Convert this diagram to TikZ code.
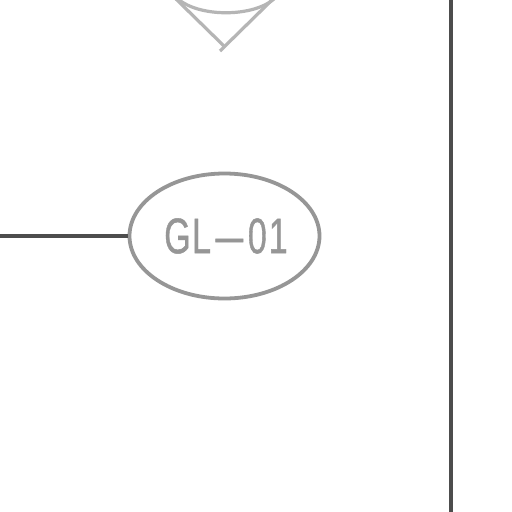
\documentclass[tikz,border=0pt]{standalone}
\usepackage{graphicx}
\usepackage{fontspec}
\setmainfont{Liberation Sans}
\newfontface\tagface[FakeBold=1]{Liberation Sans}
\definecolor{darkline}{HTML}{4D4D4D}
\definecolor{midgray}{HTML}{969696}
\definecolor{lightgray2}{HTML}{B5B5B5}
\usetikzlibrary{shapes.geometric}
\tikzset{
  wire/.style={draw=darkline,line width=3.8pt},
  tag/.style={draw=midgray,line width=3.8pt,ellipse,minimum width=190pt,minimum height=125pt,inner sep=0pt},
  faint/.style={draw=lightgray2,line width=3.2pt},
}
\begin{document}
\begin{tikzpicture}[x=1pt,y=-1pt]
\useasboundingbox (0,0) rectangle (512,512);
\fill[white] (0,0) rectangle (512,512);
\node[tag] (tagnode) at (224.5,236) {};
\node[text=midgray,inner sep=0pt,font=\tagface\fontsize{50pt}{50pt}\selectfont,xscale=0.68,yscale=1] (taglabel) at (226,236) {G\kern2pt L\kern7pt \scalebox{1.45}[1]{–}\kern7pt 0\kern3pt 1};
\coordinate (leftend) at (0,236);
\draw[wire] (leftend) -- (tagnode.west);
\coordinate (railtop) at (451,0);
\coordinate (railbottom) at (451,512);
\draw[wire] (railtop) -- (railbottom);
\coordinate (vleft) at (176,-1);
\coordinate (vlefttip) at (225,47);
\coordinate (vright) at (273,-1);
\coordinate (vrighttip) at (220,51);
\draw[faint] (vleft) -- (vlefttip);
\draw[faint] (vright) -- (vrighttip);
\draw[faint] (176,-3) .. controls (196,18) and (256,18) .. (276,-3);
\end{tikzpicture}
\end{document}
